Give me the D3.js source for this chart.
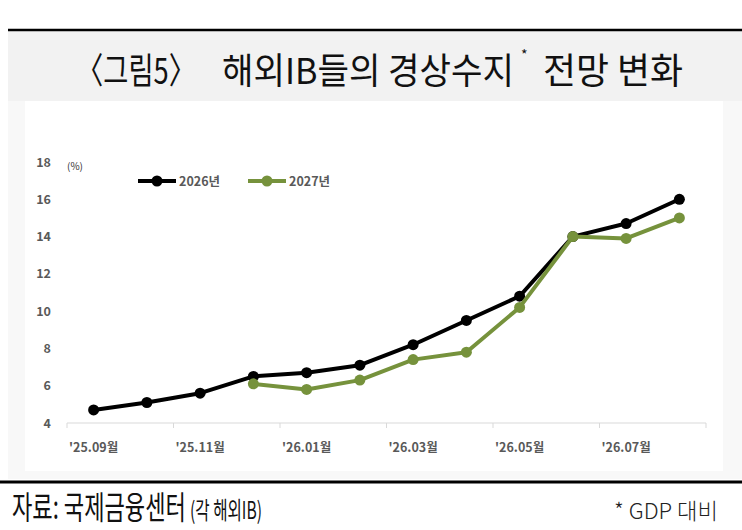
<!DOCTYPE html>
<html>
<head>
<meta charset="utf-8">
<script src="https://cdn.jsdelivr.net/npm/d3@7"></script>
<style>
  body { margin: 0; background: #fff; }
  svg { display: block; }
</style>
</head>
<body>
<svg id="chart" width="742" height="530"></svg>
<script>
var months = ["'25.09월", "'25.10월", "'25.11월", "'25.12월", "'26.01월", "'26.02월",
              "'26.03월", "'26.04월", "'26.05월", "'26.06월", "'26.07월", "'26.08월"];
var y2026 = [4.7, 5.1, 5.6, 6.5, 6.7, 7.1, 8.2, 9.5, 10.8, 14.0, 14.7, 16.0];
var y2027 = [null, null, null, 6.1, 5.8, 6.3, 7.4, 7.8, 10.2, 14.0, 13.9, 15.0];
var yTicks = [4, 6, 8, 10, 12, 14, 16, 18];
var seriesNames = ["2026년", "2027년"];
var colors = ["#000000", "#76923c"];

var svg = d3.select("#chart");
var KR = "'Noto Sans CJK KR', sans-serif";

// frame
svg.append("rect").attr("x", 8).attr("y", 101).attr("width", 734).attr("height", 378).attr("fill", "#f8f8f8");
svg.append("rect").attr("x", 25).attr("y", 101).attr("width", 698).attr("height", 370).attr("fill", "#fff");
svg.append("rect").attr("x", 8).attr("y", 31).attr("width", 734).attr("height", 70).attr("fill", "#f2f2f2");
svg.append("line").attr("x1", 8).attr("x2", 742).attr("y1", 30).attr("y2", 30)
    .attr("stroke", "#000").attr("stroke-width", 2.5);
svg.append("line").attr("x1", 0).attr("x2", 742).attr("y1", 482).attr("y2", 482)
    .attr("stroke", "#000").attr("stroke-width", 3);

// condensed text: draw natural, then squeeze horizontally to the wanted width
function fit(x, yy, size, len, s, weight, fill) {
    var t = svg.append("text").attr("x", 0).attr("y", 0)
        .attr("font-family", KR).attr("font-size", size).attr("fill", fill || "#111")
        .attr("font-weight", weight || 400).text(s);
    var sx = len ? len / t.node().getComputedTextLength() : 1;
    t.attr("transform", "translate(" + x + "," + yy + ") scale(" + sx + ",1)");
    return t;
}
fit(76, 84, 36, 120, "〈그림5〉");
fit(222, 84, 36, 292, "해외IB들의 경상수지");
fit(521, 60, 14, null, "*");
fit(543, 84, 36, 140, "전망 변화");

// footer
fit(12, 519, 32, 174, "자료: 국제금융센터");
fit(190, 519, 24, 72, "(각 해외IB)");
fit(614, 519, 22, 104, "* GDP 대비", 300, "#222");

// scales
var x = d3.scaleBand().domain(months).range([67, 706]);
var y = d3.scaleLinear().domain([4, 18]).range([423, 162]);
var cx = function(i) { return x(months[i]) + x.bandwidth() / 2; };

// x axis
svg.append("line").attr("x1", 67).attr("x2", 706).attr("y1", y(4)).attr("y2", y(4))
    .attr("stroke", "#d9d9d9").attr("stroke-width", 1);
svg.selectAll(".xt").data(d3.range(0, 13, 2)).join("line")
    .attr("x1", function(i) { return 67 + i * x.bandwidth(); })
    .attr("x2", function(i) { return 67 + i * x.bandwidth(); })
    .attr("y1", y(4)).attr("y2", y(4) + 5)
    .attr("stroke", "#d9d9d9");
svg.selectAll(".xl").data(months.filter(function(d, i) { return i % 2 === 0; })).join("text")
    .attr("x", function(d) { return x(d) + x.bandwidth() / 2; })
    .attr("y", 452).attr("text-anchor", "middle")
    .attr("font-family", KR).attr("font-weight", 700).attr("font-size", 12.5).attr("fill", "#595959")
    .text(function(d) { return d; });

// y labels
svg.selectAll(".yl").data(yTicks).join("text")
    .attr("x", 51).attr("y", function(d) { return y(d) + 4.5; }).attr("text-anchor", "end")
    .attr("font-family", KR).attr("font-weight", 700).attr("font-size", 12.5).attr("fill", "#595959")
    .text(function(d) { return d; });
svg.append("text").attr("x", 67).attr("y", 170)
    .attr("font-family", KR).attr("font-size", 10).attr("fill", "#333").text("(%)");

// lines
[y2026, y2027].forEach(function(vals, s) {
    var line = d3.line()
        .defined(function(d) { return d != null; })
        .x(function(d, i) { return cx(i); })
        .y(function(d) { return y(d); });
    svg.append("path").datum(vals).attr("d", line)
        .attr("fill", "none").attr("stroke", colors[s]).attr("stroke-width", 4)
        .attr("stroke-linejoin", "round");
    svg.selectAll(".pt" + s).data(vals.map(function(v, i) { return { v: v, i: i }; })
        .filter(function(d) { return d.v != null; })).join("circle")
        .attr("cx", function(d) { return cx(d.i); })
        .attr("cy", function(d) { return y(d.v); })
        .attr("r", 5.5).attr("fill", colors[s]);
});

// legend
var leg = [{ x: 138 }, { x: 248 }];
seriesNames.forEach(function(name, s) {
    var lx = leg[s].x;
    svg.append("line").attr("x1", lx).attr("x2", lx + 38).attr("y1", 181).attr("y2", 181)
        .attr("stroke", colors[s]).attr("stroke-width", 4);
    svg.append("circle").attr("cx", lx + 19).attr("cy", 181).attr("r", 5.5).attr("fill", colors[s]);
    svg.append("text").attr("x", lx + 41).attr("y", 186)
        .attr("font-family", KR).attr("font-weight", 700).attr("font-size", 12.5).attr("fill", "#595959")
        .text(name);
});
</script>
</body>
</html>
